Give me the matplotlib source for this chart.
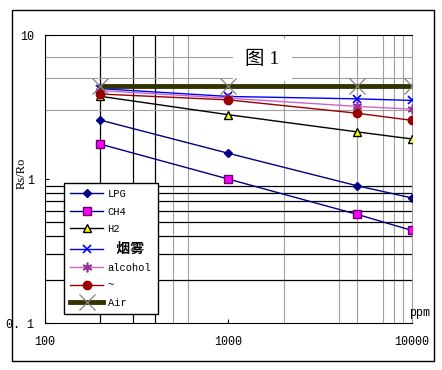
import matplotlib
matplotlib.use('Agg')
import matplotlib.pyplot as plt
from matplotlib.patches import Rectangle

plt.rcParams['font.family'] = ['Liberation Mono', 'Noto Sans CJK SC']

ppm = [200, 1000, 5000, 10000]
lpg = [2.57, 1.51, 0.90, 0.74]
ch4 = [1.75, 1.0, 0.57, 0.44]
h2 = [3.76, 2.80, 2.13, 1.90]
smoke = [4.25, 3.75, 3.61, 3.52]
alcohol = [4.12, 3.65, 3.20, 3.06]
co = [3.90, 3.55, 2.87, 2.56]
air = [4.40, 4.40, 4.40, 4.40]

labels = ['LPG', 'CH4', 'H2', ' 烟雾', 'alcohol', '~', 'Air']

fig = plt.figure(figsize=(4.42, 3.70), dpi=100)
fig.patches.append(Rectangle((0.027, 0.024), 0.955, 0.949, transform=fig.transFigure,
                             fill=False, edgecolor='black', linewidth=1.0))
ax = fig.add_axes([0.1018, 0.127, 0.830, 0.778])
ax.set_xscale('log')
ax.set_yscale('log')
ax.set_xlim(100, 10000)
ax.set_ylim(0.1, 10)

# grid as drawn in the original sheet
for v in [200, 300, 400]:
    ax.axvline(v, color='black', lw=0.9, zorder=1)
for v in [500, 600, 2000, 4000, 5000, 7000, 8000, 9000]:
    ax.axvline(v, color='#a0a0a0', lw=0.8, zorder=1)
for v in [0.2, 0.3, 0.4, 0.5, 0.6, 0.7, 0.8, 0.9]:
    ax.axhline(v, color='black', lw=0.9, zorder=1)
for v in [3, 5, 7]:
    ax.axhline(v, color='#a0a0a0', lw=0.8, zorder=1)

ax.plot(ppm, lpg, color='#000080', lw=1, marker='D', ms=4, mfc='#000080', mec='#000080', zorder=3, label=labels[0])
ax.plot(ppm, ch4, color='#000080', lw=1, marker='s', ms=6, mfc='#ff00ff', mec='#660066', zorder=3, label=labels[1])
ax.plot(ppm, h2, color='black', lw=1, marker='^', ms=6, mfc='#ffff00', mec='black', zorder=3, label=labels[2])
ax.plot(ppm, smoke, color='#0000ff', lw=1, marker='x', ms=6, mew=1.2, mec='#0000ff', zorder=3, label=labels[3])
ax.plot(ppm, alcohol, color='#cc66cc', lw=1, marker=(6, 2, 0), ms=7, mew=1.2, mec='#993399', zorder=3, label=labels[4])
ax.plot(ppm, co, color='#990000', lw=1, marker='o', ms=6, mfc='#990000', mec='#990000', zorder=3, label=labels[5])
ax.plot(ppm, air, color='#333300', lw=3.5, marker='x', ms=11, mew=0.9, mec='#808080', zorder=3, label=labels[6])

for s in ['left', 'bottom', 'top']:
    ax.spines[s].set_color('black')
ax.spines['right'].set_color('#a0a0a0')

ax.set_xticks([100, 1000, 10000])
ax.set_xticklabels(['100', '1000', '10000'])
ax.set_yticks([0.1, 1, 10])
ax.set_yticklabels(['0. 1', '1', '10'])
ax.minorticks_off()
ax.tick_params(axis='x', direction='in', length=3, pad=9, labelsize=8.5)
ax.tick_params(axis='y', direction='in', length=3, pad=8, labelsize=8.5)

ax.text(0.592, 0.915, '图 1', transform=ax.transAxes, ha='center', va='center',
        fontsize=14, family=['Liberation Serif', 'Noto Sans CJK SC'], zorder=2,
        bbox=dict(facecolor='white', edgecolor='none', pad=9))

fig.text(0.05, 0.532, 'Rs/Ro', rotation=90, ha='center', va='center', fontsize=9,
         family=['Liberation Serif'])
ax.text(1.02, 0.035, 'ppm', transform=ax.transAxes, ha='center', va='center', fontsize=8.5)

leg = ax.legend(loc='lower left', bbox_to_anchor=(0.037, 0.012), fontsize=7.5,
                frameon=True, fancybox=False, edgecolor='black', framealpha=1,
                handlelength=3.2, labelspacing=0.72, borderpad=0.6, handletextpad=0.4)
leg.get_frame().set_linewidth(1.0)
for t in leg.get_texts():
    if t.get_text().strip() == '烟雾':
        t.set_fontweight('bold')
        t.set_fontsize(10)
leg.set_zorder(5)

fig.savefig('out.png', dpi=100)
